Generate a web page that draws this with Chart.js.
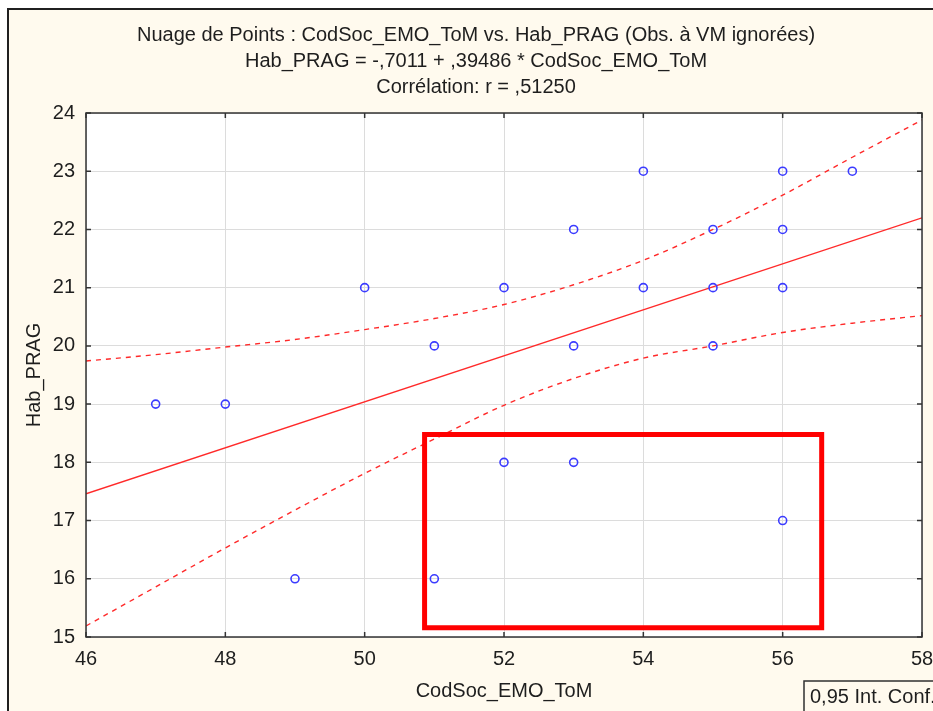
<!DOCTYPE html>
<html>
<head>
<meta charset="utf-8">
<script src="https://cdn.jsdelivr.net/npm/chart.js@4.4.1/dist/chart.umd.min.js"></script>
<style>
  html, body { margin: 0; padding: 0; background: #ffffff; }
  #wrap { width: 933px; height: 711px; position: relative; }
  canvas { display: block; }
</style>
</head>
<body>
<div id="wrap"><canvas id="c" width="933" height="711"></canvas></div>
<script>
// ---- data ----
const titleLines = [
  "Nuage de Points : CodSoc_EMO_ToM vs. Hab_PRAG (Obs. à VM ignorées)",
  "Hab_PRAG = -,7011 + ,39486 * CodSoc_EMO_ToM",
  "Corrélation: r = ,51250"
];
const xLabel = "CodSoc_EMO_ToM";
const yLabel = "Hab_PRAG";
const legendText = "0,95 Int. Conf.";

const obsX = [47, 48, 49, 50, 51, 51, 52, 52, 53, 53, 53, 54, 54, 55, 55, 55, 56, 56, 56, 56, 57];
const obsY = [19, 19, 16, 21, 20, 16, 21, 18, 22, 20, 18, 23, 21, 22, 21, 20, 23, 22, 21, 17, 23];

const fitX = [46, 58];
const fitY = [17.46, 22.20];

const bandX     = [46, 47, 48, 49, 50, 51, 52, 53, 54, 55, 56, 57, 58];
const bandUpper = [19.74, 19.85, 19.98, 20.11, 20.28, 20.47, 20.71, 21.05, 21.47, 22.00, 22.59, 23.24, 23.88];
const bandLower = [15.19, 15.86, 16.53, 17.18, 17.81, 18.40, 18.98, 19.44, 19.79, 20.00, 20.23, 20.39, 20.52];

const boxX = [50.86, 56.56, 56.56, 50.86, 50.86];
const boxY = [18.48, 18.48, 15.16, 15.16, 18.48];

const xTicks = [46, 48, 50, 52, 54, 56, 58];
const yTicks = [15, 16, 17, 18, 19, 20, 21, 22, 23, 24];

// ---- helpers ----
const pts = (xs, ys) => xs.map((x, i) => ({ x: x, y: ys[i] }));
const FONT = "'Liberation Sans', Arial, sans-serif";
const TXT = "#1e1e1e";

const decor = {
  id: 'decor',
  beforeDraw(chart) {
    const ctx = chart.ctx;
    ctx.save();
    ctx.fillStyle = '#ffffff';
    ctx.fillRect(0, 0, chart.width, chart.height);
    ctx.fillStyle = '#fffaee';
    ctx.fillRect(8, 9, chart.width - 8, chart.height - 9);
    // outer frame
    ctx.strokeStyle = '#202020';
    ctx.lineWidth = 2;
    ctx.beginPath();
    ctx.moveTo(8, chart.height + 2);
    ctx.lineTo(8, 9);
    ctx.lineTo(chart.width + 2, 9);
    ctx.stroke();
    // plot background
    const a = chart.chartArea;
    ctx.fillStyle = '#ffffff';
    ctx.fillRect(a.left, a.top, a.right - a.left, a.bottom - a.top);
    // title
    ctx.fillStyle = TXT;
    ctx.font = "20px " + FONT;
    ctx.textAlign = 'center';
    ctx.textBaseline = 'middle';
    titleLines.forEach((t, i) => ctx.fillText(t, 476, 35 + i * 26));
    ctx.restore();
  },
  afterDraw(chart) {
    const ctx = chart.ctx;
    const a = chart.chartArea;
    const xs = chart.scales.x, ys = chart.scales.y;
    ctx.save();
    ctx.strokeStyle = '#333333';
    ctx.lineWidth = 1.5;
    ctx.strokeRect(a.left, a.top, a.right - a.left, a.bottom - a.top);
    ctx.beginPath();
    xTicks.forEach(v => {
      const px = xs.getPixelForValue(v);
      ctx.moveTo(px, a.bottom); ctx.lineTo(px, a.bottom - 5);
      ctx.moveTo(px, a.top); ctx.lineTo(px, a.top + 5);
    });
    yTicks.forEach(v => {
      const py = ys.getPixelForValue(v);
      ctx.moveTo(a.left, py); ctx.lineTo(a.left + 5, py);
      ctx.moveTo(a.right, py); ctx.lineTo(a.right - 5, py);
    });
    ctx.stroke();
    // legend box (cut by the window edge)
    ctx.strokeStyle = '#303030';
    ctx.lineWidth = 1.5;
    ctx.strokeRect(804, 681, 160, 50);
    ctx.fillStyle = TXT;
    ctx.font = "20px " + FONT;
    ctx.textAlign = 'left';
    ctx.textBaseline = 'middle';
    ctx.fillText(legendText, 810, 697);
    ctx.restore();
  }
};

new Chart(document.getElementById('c'), {
  type: 'scatter',
  data: {
    datasets: [
      {
        label: 'obs',
        data: pts(obsX, obsY),
        pointStyle: 'circle',
        pointRadius: 4,
        pointBorderWidth: 1.6,
        pointBorderColor: '#3b3bff',
        pointBackgroundColor: 'rgba(255,255,255,0)',
        showLine: false,
        order: 0
      },
      {
        label: 'fit',
        data: pts(fitX, fitY),
        showLine: true,
        borderColor: '#ff2a2a',
        borderWidth: 1.4,
        pointRadius: 0,
        order: 2
      },
      {
        label: 'upper',
        data: pts(bandX, bandUpper),
        showLine: true,
        borderColor: '#ff2a2a',
        borderWidth: 1.4,
        borderDash: [5, 5],
        cubicInterpolationMode: 'monotone',
        pointRadius: 0,
        order: 2
      },
      {
        label: 'lower',
        data: pts(bandX, bandLower),
        showLine: true,
        borderColor: '#ff2a2a',
        borderWidth: 1.4,
        borderDash: [5, 5],
        cubicInterpolationMode: 'monotone',
        pointRadius: 0,
        order: 2
      },
      {
        label: 'box',
        data: pts(boxX, boxY),
        showLine: true,
        borderColor: '#ff0000',
        borderWidth: 5,
        borderJoinStyle: 'miter',
        borderCapStyle: 'square',
        tension: 0,
        pointRadius: 0,
        order: 1
      }
    ]
  },
  options: {
    responsive: false,
    animation: false,
    devicePixelRatio: 1,
    layout: { padding: { left: 0, right: 0, top: 113, bottom: 0 } },
    plugins: {
      legend: { display: false },
      title: { display: false },
      tooltip: { enabled: false }
    },
    scales: {
      x: {
        type: 'linear',
        min: 46, max: 58,
        afterFit: s => { s.height = 74; s.paddingLeft = 0; s.paddingRight = 11; },
        afterBuildTicks: s => { s.ticks = xTicks.map(v => ({ value: v })); },
        grid: { color: '#dcdcdc', lineWidth: 1, drawTicks: false },
        border: { display: false },
        ticks: { padding: 10, color: TXT, font: { family: FONT, size: 20 } },
        title: { display: true, text: xLabel, color: TXT, font: { family: FONT, size: 20 }, padding: { top: 0, bottom: 8 } }
      },
      y: {
        type: 'linear',
        min: 15, max: 24,
        afterFit: s => { s.width = 86; },
        afterBuildTicks: s => { s.ticks = yTicks.map(v => ({ value: v })); },
        grid: { color: '#dcdcdc', lineWidth: 1, drawTicks: false },
        border: { display: false },
        ticks: { padding: 11, color: TXT, font: { family: FONT, size: 20 } },
        title: { display: true, text: yLabel, color: TXT, font: { family: FONT, size: 20 }, padding: { top: 22, bottom: 0 } }
      }
    }
  },
  plugins: [decor]
});
</script>
</body>
</html>
